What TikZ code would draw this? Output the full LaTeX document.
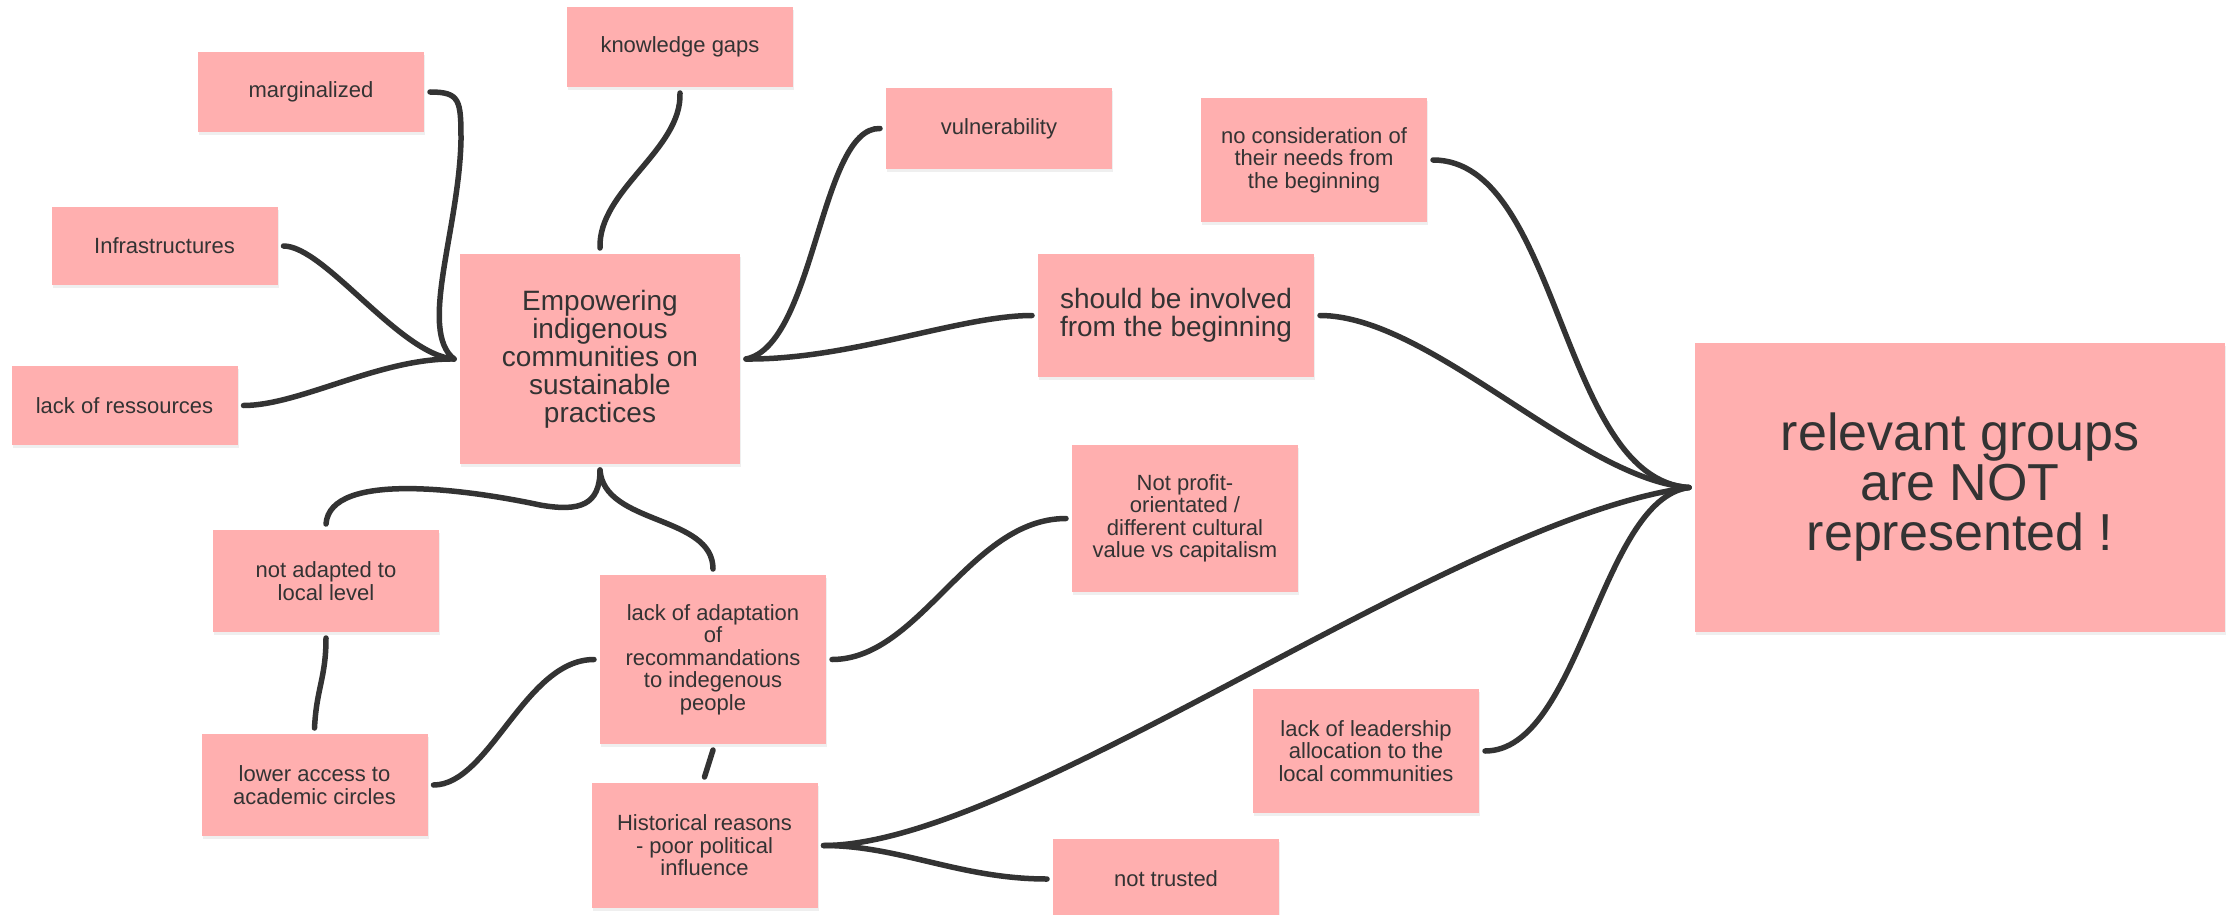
\documentclass[tikz,border=0pt]{standalone}
\usepackage{fontspec}
\setmainfont{Liberation Sans}
\usetikzlibrary{shadows}
\definecolor{notepink}{RGB}{255,175,175}
\definecolor{inkgray}{RGB}{51,51,51}
\tikzset{
  sticky/.style={fill=notepink, text=inkgray, align=center, inner sep=0pt, outer sep=6pt,
    minimum width=226pt, font=\fontsize{22}{22.5}\selectfont,
    drop shadow={shadow xshift=1pt, shadow yshift=-3pt, opacity=0.12}},
  midsticky/.style={sticky, font=\fontsize{28}{28}\selectfont},
  bigsticky/.style={sticky, font=\fontsize{52}{50}\selectfont},
  link/.style={draw=inkgray, line width=5.5pt, line cap=round},
}
\begin{document}
\begin{tikzpicture}[x=1pt, y=-1pt]
  \fill[white] (0,0) rectangle (2226,915);
  \useasboundingbox (0,0) rectangle (2226,915);
  % Central topic and its notes
  \node[midsticky, minimum width=280pt, minimum height=210pt] (emp) at (600,359)
    {Empowering\\indigenous\\communities on\\sustainable\\practices};
  \node[sticky, minimum height=80pt] (marg) at (311,92) {marginalized};
  \node[sticky, minimum height=80pt] (gaps) at (680,47) {knowledge gaps};
  \node[sticky, minimum height=80pt] (vuln) at (999,128.5) {vulnerability};
  \node[sticky, minimum height=78pt] (infra) at (164.5,246) {Infrastructures};
  \node[sticky, minimum height=79pt] (ress) at (124.5,405.5) {lack of ressources};
  \node[midsticky, minimum width=276pt, minimum height=123pt] (involve) at (1176,315.5)
    {should be involved\\from the beginning};
  % Notes below the central topic
  \node[sticky, minimum height=102pt] (local) at (326,581) {not adapted to\\local level};
  \node[sticky, minimum height=169pt] (adapt) at (713,659.5)
    {lack of adaptation\\of\\recommandations\\to indegenous\\people};
  \node[sticky, minimum height=102pt] (access) at (314.5,785) {lower access to\\academic circles};
  \node[sticky, minimum height=125pt] (hist) at (704.5,845.5)
    {Historical reasons\\- poor political\\influence};
  \node[sticky, minimum height=147pt] (profit) at (1185,518.5)
    {Not profit-\\orientated /\\different cultural\\value vs capitalism};
  \node[sticky, minimum height=80pt] (trust) at (1166,879) {not trusted};
  % Right side
  \node[sticky, minimum height=124pt] (cons) at (1314,160)
    {no consideration of\\their needs from\\the beginning};
  \node[sticky, minimum height=124pt] (lead) at (1366,751)
    {lack of leadership\\allocation to the\\local communities};
  \node[bigsticky, minimum width=530pt, minimum height=289pt] (rel) at (1960,487.5)
    {relevant groups\\are NOT\\represented !};

  % Connectors into the central topic
  \draw[link] (marg.east) .. controls +(30,0) and (461,100) .. (461,140)
    .. controls (459,230) and (418,330) .. (emp.west);
  \draw[link] (infra.east) .. controls +(41,0) and +(-54,-4) .. (emp.west);
  \draw[link] (ress.east) .. controls +(56,0) and +(-74,-1) .. (emp.west);
  \draw[link] (gaps.south) .. controls +(2,57) and +(-2,-58) .. (emp.north);
  \draw[link] (vuln.west) .. controls +(-60,-2) and +(69,-14) .. (emp.east);
  \draw[link] (involve.west) .. controls +(-72,0) and +(104,1) .. (emp.east);
  % Connectors below
  \draw[link] (emp.south) .. controls +(0,35) and (580,512) .. (540,505)
    .. controls (470,490) and (330,470) .. (local.north);
  \draw[link] (emp.south) .. controls +(4,55) and +(0,-54) .. (adapt.north);
  \draw[link] (local.south) .. controls +(0,40) and +(2,-40) .. (access.north);
  \draw[link] (access.east) .. controls +(56,0) and +(-69,0) .. (adapt.west);
  \draw[link] (adapt.south) -- (hist.north);
  \draw[link] (adapt.east) .. controls +(88,0) and +(-96,0) .. (profit.west);
  \draw[link] (hist.east) .. controls +(76,0) and +(-87,0) .. (trust.west);
  % Connectors into the conclusion
  \draw[link] (hist.east) .. controls +(196,0) and +(-239,32) .. (rel.west);
  \draw[link] (cons.east) .. controls +(127,0) and +(-129,-8) .. (rel.west);
  \draw[link] (involve.east) .. controls +(110,0) and +(-109,-8) .. (rel.west);
  \draw[link] (lead.east) .. controls +(95,0) and +(-89,12) .. (rel.west);
\end{tikzpicture}
\end{document}
